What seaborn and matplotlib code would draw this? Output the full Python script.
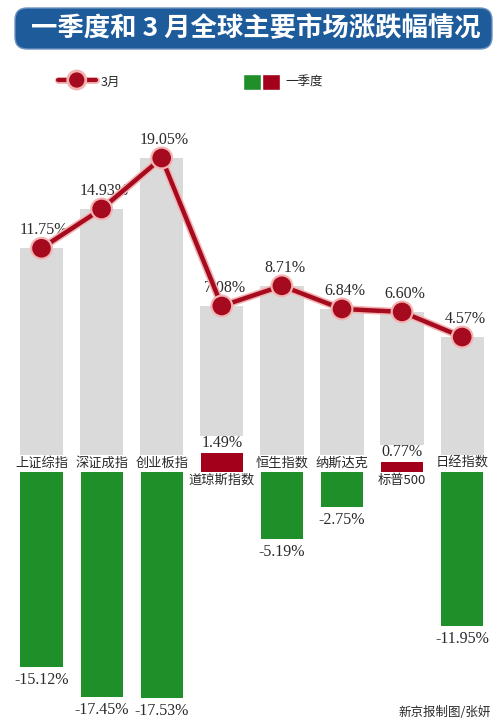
import matplotlib
matplotlib.use("Agg")
import matplotlib.pyplot as plt
import matplotlib.patheffects as pe
from matplotlib.patches import FancyBboxPatch, Patch
from matplotlib.lines import Line2D
from matplotlib.legend_handler import HandlerTuple
import seaborn as sns
import pandas as pd

markets = ["上证综指", "深证成指", "创业板指", "道琼斯指数", "恒生指数", "纳斯达克", "标普500", "日经指数"]
march = [11.75, 14.93, 19.05, 7.08, 8.71, 6.84, 6.60, 4.57]
q1 = [-15.12, -17.45, -17.53, 1.49, -5.19, -2.75, 0.77, -11.95]

title = "一季度和 3 月全球主要市场涨跌幅情况"
source = "新京报制图/张妍"
legend_labels = ["3月", "一季度"]

W, H = 500, 726
# pixel position of the two zero lines and pixels per percent point
UP_ZERO, UP_PX = 393.5, 12.36
LO_ZERO, LO_PX = 472, 12.9
X0, DX = 41.5, 60.1

GRAY = "#dadada"
GREEN = "#1f8f2a"
RED = "#a3001c"
LINE_RED = "#a50a1e"
BLUE = "#1d5b9b"
TXT = "#2a2a2a"
NUM_FONT = ["Liberation Serif", "DejaVu Serif"]

sns.set_theme(style="white")
plt.rcParams["font.family"] = ["Noto Sans CJK SC", "DejaVu Sans"]

df = pd.DataFrame({"market": markets, "march": march, "q1": q1})
df["sign"] = ["up" if v > 0 else "down" for v in df["q1"]]
# gray column runs down to just above the first quarter label row
floor_px = [LO_ZERO - max(v, 0) * LO_PX - 17 for v in q1]
df["floor"] = [(UP_ZERO - p) / UP_PX for p in floor_px]

fig = plt.figure(figsize=(W / 100, H / 100), dpi=100)
ax_bg = fig.add_axes([0, 0, 1, 1])
ax_lo = fig.add_axes([0, 0, 1, 1])
ax_up = fig.add_axes([0, 0, 1, 1])
for ax in (ax_bg, ax_lo, ax_up):
    ax.patch.set_alpha(0)

# march: gray columns + red line
sns.barplot(data=df, x="market", y="march", color=GRAY, saturation=1,
            width=0.72, errorbar=None, linewidth=0, ax=ax_up)
sns.barplot(data=df, x="market", y="floor", color=GRAY, saturation=1,
            width=0.72, errorbar=None, linewidth=0, ax=ax_up)
sns.pointplot(data=df, x="market", y="march", color=LINE_RED, markers="o",
              markersize=11, linewidth=3.2, errorbar=None, ax=ax_up)
ax_up.lines[-1].set_path_effects([pe.Stroke(linewidth=5.5, foreground="#f3b3b3"), pe.Normal()])
ax_up.lines[-1].set_zorder(5)

for i, v in enumerate(march):
    ax_up.annotate(f"{v:.2f}%", (i, v), xytext=(2, 13), textcoords="offset points",
                   ha="center", va="center", fontsize=11.5, color=TXT, family=NUM_FONT)

# first quarter bars
sns.barplot(data=df, x="market", y="q1", hue="sign", palette={"up": RED, "down": GREEN},
            dodge=False, saturation=1, width=0.7, errorbar=None, legend=False,
            linewidth=0, ax=ax_lo)

for i, (name, v) in enumerate(zip(markets, q1)):
    if v < 0:
        ax_lo.annotate(f"{v:.2f}%", (i, v), xytext=(0, -3.5), textcoords="offset points",
                       ha="center", va="top", fontsize=11.5, color=TXT, family=NUM_FONT)
        ax_lo.annotate(name, (i, 0), xytext=(0, 6.5), textcoords="offset points",
                       ha="center", va="center", fontsize=9.5, color=TXT)
    else:
        ax_lo.annotate(f"{v:.2f}%", (i, v), xytext=(0, 1.5), textcoords="offset points",
                       ha="center", va="bottom", fontsize=11.5, color=TXT, family=NUM_FONT)
        ax_lo.annotate(name, (i, 0), xytext=(0, -1.5), textcoords="offset points",
                       ha="center", va="top", fontsize=9.5, color=TXT)

xl = (-X0 / DX, (W - X0) / DX)
ax_up.set_xlim(xl)
ax_lo.set_xlim(xl)
ax_up.set_ylim(-(H - UP_ZERO) / UP_PX, UP_ZERO / UP_PX)
ax_lo.set_ylim(-(H - LO_ZERO) / LO_PX, LO_ZERO / LO_PX)
for ax in (ax_up, ax_lo):
    ax.set_axis_off()

# title banner, legend and credit in pixel coordinates
ax_bg.set_xlim(0, W)
ax_bg.set_ylim(H, 0)
ax_bg.set_axis_off()
ax_bg.add_patch(FancyBboxPatch((15, 8), 477, 41, boxstyle="round,pad=0,rounding_size=12",
                               facecolor=BLUE, edgecolor="#6d93bf", linewidth=1))
ax_bg.text(256, 29, title, ha="center", va="center", color="white",
           fontsize=19, fontweight="bold")
ax_bg.text(491, 712, source, ha="right", va="center", fontsize=9, color=TXT)

h_line = Line2D([], [], color=LINE_RED, marker="o", markersize=10, linewidth=3,
                path_effects=[pe.Stroke(linewidth=5, foreground="#f3b3b3"), pe.Normal()])
h_bar = (Patch(facecolor=GREEN), Patch(facecolor=RED))
fig.legend([h_line, h_bar], legend_labels, loc="center left",
           bbox_to_anchor=(58 / W, 1 - 82 / H), ncol=2, frameon=False,
           fontsize=9, handlelength=3.0, handleheight=1.6, handletextpad=0.4,
           columnspacing=9.8, borderpad=0, borderaxespad=0,
           handler_map={tuple: HandlerTuple(ndivide=None, pad=0.05)})

fig.savefig("out.png", dpi=100)
